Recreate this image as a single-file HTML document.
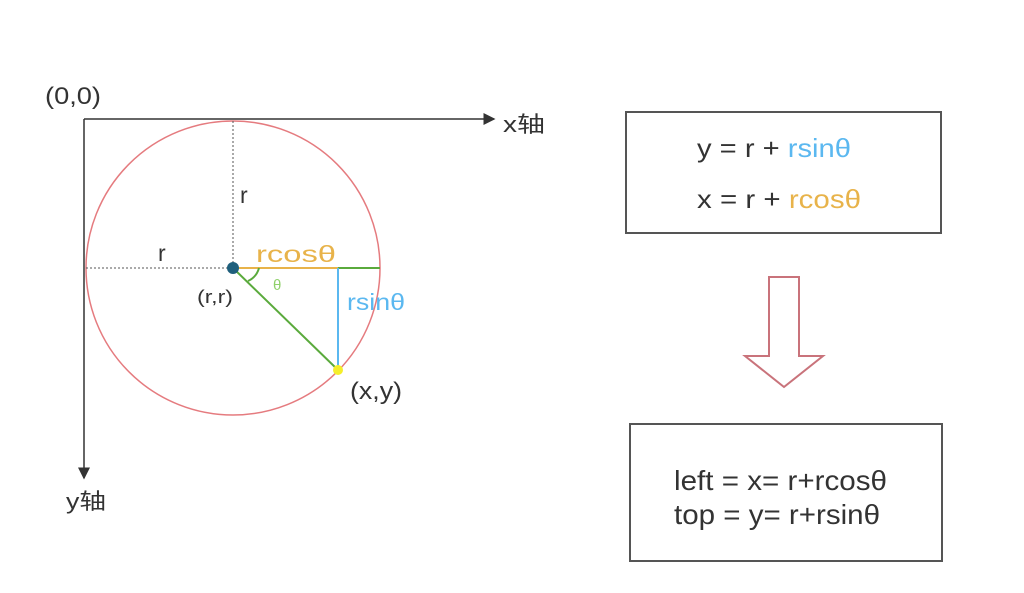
<!DOCTYPE html>
<html><head><meta charset="utf-8"><style>
html,body{margin:0;padding:0;background:#fff;}
svg{display:block;}
text{font-family:"Liberation Sans","Noto Sans CJK SC",sans-serif;}
</style></head><body>
<svg width="1024" height="593" viewBox="0 0 1024 593">
<defs>
<marker id="ah" markerWidth="8" markerHeight="8" refX="7" refY="4" orient="auto"><path d="M0,0 L8,4 L0,8 z" fill="#333"/></marker>
</defs>
<rect width="1024" height="593" fill="#fff"/>
<g>
<line x1="84" y1="119" x2="494" y2="119" stroke="#333" stroke-width="1.5" marker-end="url(#ah)"/>
<line x1="84" y1="119" x2="84" y2="478" stroke="#333" stroke-width="1.5" marker-end="url(#ah)"/>
<text x="45" y="104" font-size="24" fill="#333" textLength="56" lengthAdjust="spacingAndGlyphs">(0,0)</text>
<text x="503" y="132" font-size="22" fill="#333" textLength="42" lengthAdjust="spacingAndGlyphs">x轴</text>
<text x="66" y="509" font-size="22" fill="#333" textLength="40" lengthAdjust="spacingAndGlyphs">y轴</text>
</g>
<circle cx="233" cy="268" r="147" fill="none" stroke="#e57b7f" stroke-width="1.5"/>
<line x1="233" y1="121" x2="233" y2="268" stroke="#555" stroke-dasharray="2,2"/>
<line x1="86" y1="268" x2="233" y2="268" stroke="#555" stroke-dasharray="2,2"/>
<text x="240" y="203" font-size="23" fill="#333">r</text>
<text x="158" y="261" font-size="23" fill="#333">r</text>
<line x1="233" y1="268" x2="338" y2="268" stroke="#e8b34a" stroke-width="2"/>
<line x1="338" y1="268" x2="380" y2="268" stroke="#5aaa3c" stroke-width="2"/>
<line x1="338" y1="268" x2="338" y2="370" stroke="#5bb8f0" stroke-width="2"/>
<line x1="233" y1="268" x2="338" y2="370" stroke="#5aaa3c" stroke-width="2"/>
<path d="M259,268 A20,20 0 0 1 248,281" fill="none" stroke="#5aaa3c" stroke-width="2"/>
<text x="273" y="290" font-size="15" fill="#8fd06a">θ</text>
<circle cx="233" cy="268" r="6" fill="#1f5f7c"/>
<circle cx="338" cy="370" r="5" fill="#f5ee2a"/>
<text x="256" y="262" font-size="23" fill="#e8b34a" textLength="80" lengthAdjust="spacingAndGlyphs">rcosθ</text>
<text x="347" y="310" font-size="23" fill="#5bb8f0" textLength="58" lengthAdjust="spacingAndGlyphs">rsinθ</text>
<text x="197" y="303" font-size="18" fill="#333" textLength="36" lengthAdjust="spacingAndGlyphs">(r,r)</text>
<text x="350" y="399" font-size="24" fill="#333" textLength="52" lengthAdjust="spacingAndGlyphs">(x,y)</text>
<g>
<rect x="626" y="112" width="315" height="121" fill="#fff" stroke="#555" stroke-width="2"/>
<text x="697" y="157" font-size="26" fill="#333" textLength="154" lengthAdjust="spacingAndGlyphs">y = r + <tspan fill="#5bb8f0">rsinθ</tspan></text>
<text x="697" y="208" font-size="26" fill="#333" textLength="164" lengthAdjust="spacingAndGlyphs">x = r + <tspan fill="#e8b34a">rcosθ</tspan></text>
</g>
<path d="M769,277 L799,277 L799,356 L823,356 L784,387 L745,356 L769,356 Z" fill="#fff" stroke="#c9737b" stroke-width="2"/>
<g>
<rect x="630" y="424" width="312" height="137" fill="#fff" stroke="#555" stroke-width="2"/>
<text x="674" y="490" font-size="28" fill="#333" textLength="213" lengthAdjust="spacingAndGlyphs">left = x= r+rcosθ</text>
<text x="674" y="524" font-size="28" fill="#333" textLength="206" lengthAdjust="spacingAndGlyphs">top = y= r+rsinθ</text>
</g>
</svg>
</body></html>
